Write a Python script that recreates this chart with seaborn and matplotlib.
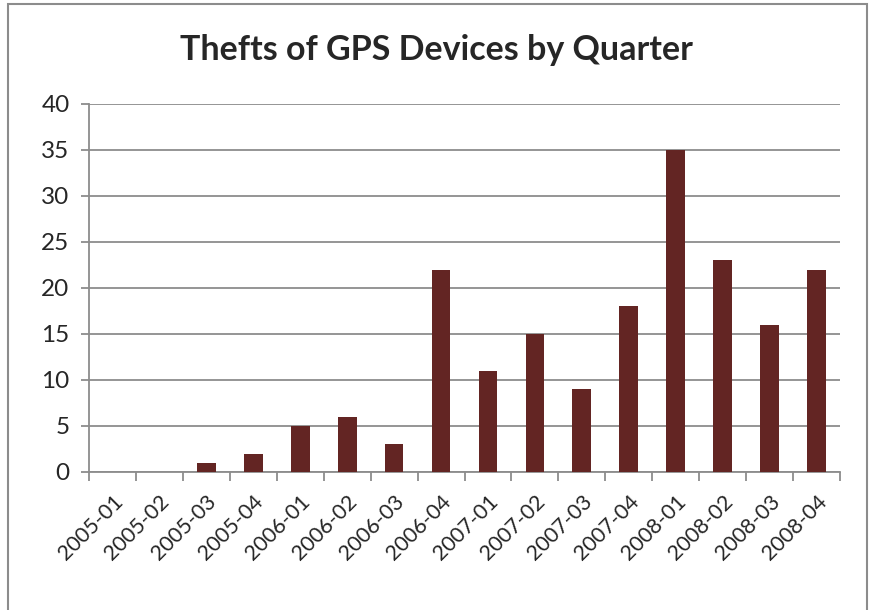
import matplotlib
matplotlib.use("Agg")
import matplotlib.pyplot as plt
import matplotlib.patches as mpatches
import pandas as pd
import seaborn as sns

quarters = ["2005-01", "2005-02", "2005-03", "2005-04",
            "2006-01", "2006-02", "2006-03", "2006-04",
            "2007-01", "2007-02", "2007-03", "2007-04",
            "2008-01", "2008-02", "2008-03", "2008-04"]
thefts = [0, 0, 1, 2, 5, 6, 3, 22, 11, 15, 9, 18, 35, 23, 16, 22]

df = pd.DataFrame({"quarter": quarters, "thefts": thefts})

sns.set_style("white")
plt.rcParams["font.family"] = ["Lato", "DejaVu Sans"]

fig = plt.figure(figsize=(8.72, 6.10), dpi=100)
ax = fig.add_axes([89 / 872, 1 - 472 / 610, 751 / 872, 368 / 610])

# chart frame like a spreadsheet chart object
fig.add_artist(mpatches.Rectangle((8 / 872, -0.05), 859 / 872, 1.05 - 4 / 610,
                                  transform=fig.transFigure, fill=False,
                                  edgecolor="#8c8c8c", linewidth=1.5))

sns.barplot(data=df, x="quarter", y="thefts", order=quarters, color="#632523",
            saturation=1, width=0.4, linewidth=0, ax=ax, zorder=3)

ax.set_ylim(0, 40)
ax.set_xlim(-0.5, len(quarters) - 0.5)
ax.set_yticks(range(0, 41, 5))
ax.yaxis.grid(True, color="#8c8c8c", linewidth=1.3, zorder=0)
ax.set_axisbelow(True)

for s in ["top", "right"]:
    ax.spines[s].set_visible(False)
for s in ["left", "bottom"]:
    ax.spines[s].set_color("#8c8c8c")
    ax.spines[s].set_linewidth(1.3)

ax.set_xticks(range(len(quarters)))
ax.set_xticklabels(quarters, rotation=45, ha="right", va="top",
                   rotation_mode="anchor", fontsize=15.5)
ax.set_xticks([i - 0.5 for i in range(len(quarters) + 1)], minor=True)
ax.tick_params(axis="x", which="major", length=0, pad=14)
ax.tick_params(axis="x", which="minor", length=6.5, width=1.3, color="#8c8c8c",
               direction="out", bottom=True)
ax.tick_params(axis="y", length=6, width=1.3, color="#8c8c8c", labelsize=17.5,
               pad=8, left=True)

ax.set_xlabel("")
ax.set_ylabel("")
fig.text(0.5, 1 - 50 / 610, "Thefts of GPS Devices by Quarter", ha="center",
         va="center", fontsize=24.5, fontweight="bold")

fig.savefig("out.png", dpi=100)
